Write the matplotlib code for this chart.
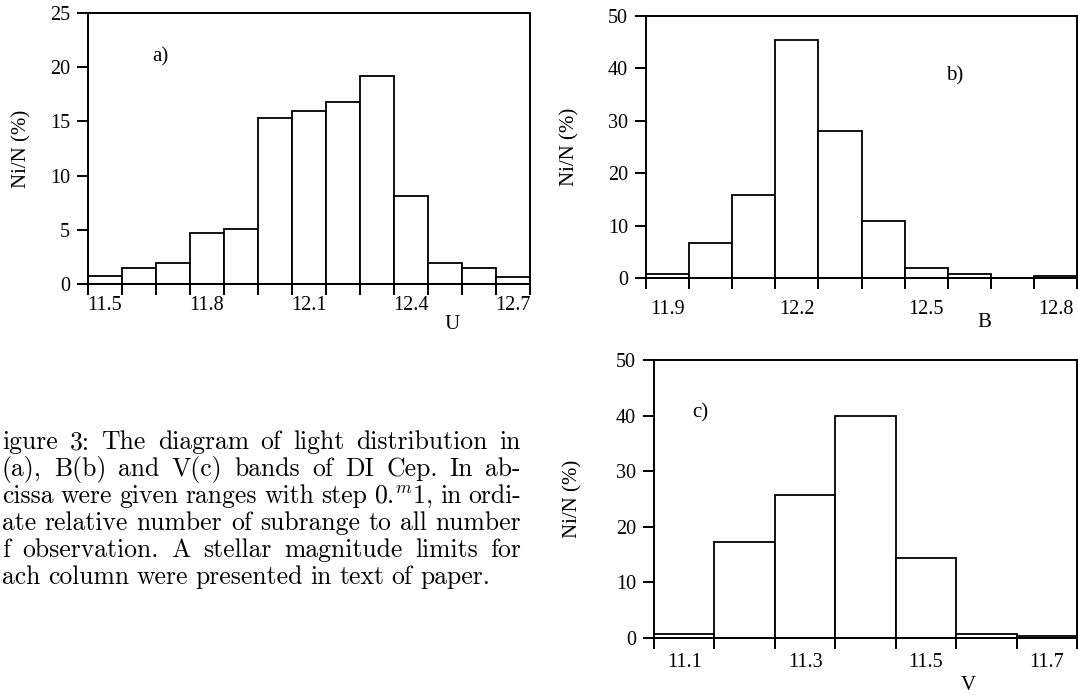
import matplotlib
matplotlib.use("Agg")
import matplotlib.pyplot as plt
import numpy as np
from matplotlib.ticker import FixedLocator, FixedFormatter, NullFormatter

# Magnitude bins (lower edge of each 0.1 mag subrange) and share of observations, %
u_bins = ["11.5", "11.6", "11.7", "11.8", "11.9", "12.0", "12.1",
          "12.2", "12.3", "12.4", "12.5", "12.6", "12.7"]
u_pct = [0.75, 1.5, 1.9, 4.7, 5.1, 15.3, 16.0, 16.8, 19.2, 8.1, 1.9, 1.5, 0.6]

b_bins = ["11.9", "12.0", "12.1", "12.2", "12.3", "12.4", "12.5",
          "12.6", "12.7", "12.8"]
b_pct = [0.7, 6.6, 15.9, 45.5, 28.0, 10.9, 2.0, 0.7, 0.0, 0.3]

v_bins = ["11.1", "11.2", "11.3", "11.4", "11.5", "11.6", "11.7"]
v_pct = [0.8, 17.3, 25.8, 40.0, 14.4, 0.8, 0.4]

# Caption text as it appears at the left page margin
caption_lines = [
    "igure 3: The diagram of light distribution in",
    "(a), B(b) and V(c) bands of DI Cep. In ab-",
    r"cissa were given ranges with step 0.$^m$1, in ordi-",
    "ate relative number of subrange to all number",
    "f observation. A stellar magnitude limits for",
    "ach column were presented in text of paper.",
]

W, H = 1078, 695
plt.rcParams["mathtext.fontset"] = "cm"
plt.rcParams["axes.unicode_minus"] = False
SERIF = "Liberation Serif"
TICK_FS = 14.5
LABEL_FS = 15
fig = plt.figure(figsize=(W / 100, H / 100), dpi=100)
fig.patch.set_facecolor("white")


def px_axes(left, top, right, bottom):
    return fig.add_axes([left / W, 1 - bottom / H, (right - left) / W, (bottom - top) / H])


def histogram(ax, labels, values, ymax, ystep, every, xpad, panel, panel_xy,
              xname, xname_xy):
    n = len(values)
    idx = np.arange(n)
    ax.bar(idx, values, width=1.0, align="edge", facecolor="white",
           edgecolor="black", linewidth=1.3, zorder=2)
    ax.set_xlim(0, n)
    ax.set_ylim(0, ymax)
    for s in ax.spines.values():
        s.set_linewidth(1.4)
        s.set_color("black")
        s.set_zorder(3)
    yt = np.arange(0, ymax + 0.1, ystep)
    ax.set_yticks(yt)
    ax.set_yticklabels([str(int(v)) for v in yt], fontfamily=SERIF, fontsize=TICK_FS)
    ax.tick_params(axis="y", direction="out", length=8, width=1.4, pad=5)
    # major ticks mark bin edges; labels sit under the centres of every k-th bin
    ax.xaxis.set_major_locator(FixedLocator(np.arange(n + 1)))
    ax.xaxis.set_major_formatter(NullFormatter())
    shown = list(range(0, n, every))
    ax.xaxis.set_minor_locator(FixedLocator([i + 0.5 for i in shown]))
    ax.xaxis.set_minor_formatter(FixedFormatter([labels[i] for i in shown]))
    ax.tick_params(axis="x", which="major", direction="out", length=8, width=1.4)
    ax.tick_params(axis="x", which="minor", length=0, pad=xpad, labelsize=TICK_FS)
    for t in ax.xaxis.get_minorticklabels():
        t.set_fontfamily(SERIF)
    ax.set_ylabel("Ni/N (%)", fontfamily=SERIF, fontsize=LABEL_FS)
    ax.text(panel_xy[0], panel_xy[1], panel, transform=ax.transAxes,
            fontfamily=SERIF, fontsize=LABEL_FS, ha="center", va="center")
    fig.text(xname_xy[0] / W, 1 - xname_xy[1] / H, xname, fontfamily=SERIF,
             fontsize=LABEL_FS, ha="center", va="center")


ax_u = px_axes(88, 13, 530, 284)
histogram(ax_u, u_bins, u_pct, 25, 5, 3, 8.5, "a)", (0.163, 0.84), "U", (452, 324))
ax_u.yaxis.set_label_coords(-0.127, 0.5)

ax_b = px_axes(646, 16, 1077, 278)
histogram(ax_b, b_bins, b_pct, 50, 10, 3, 16, "b)", (0.717, 0.77), "B", (984, 322))
ax_b.yaxis.set_label_coords(-0.155, 0.5)

ax_v = px_axes(654, 360, 1077, 638)
histogram(ax_v, v_bins, v_pct, 50, 10, 2, 10.5, "c)", (0.11, 0.81), "V", (968, 686))
ax_v.yaxis.set_label_coords(-0.168, 0.5)

# Caption block, justified between the two margins
renderer = fig.canvas.get_renderer()
x_left, x_right = 2.0, 521.0
base0, pitch = 449.0, 27.0
for k, line in enumerate(caption_lines):
    words = line.split(" ")
    y = 1 - (base0 + k * pitch) / H
    texts = [fig.text(0, y, w, fontfamily="cmr10", fontsize=18.5, va="baseline",
                      ha="left") for w in words]
    widths = [t.get_window_extent(renderer).width for t in texts]
    last = k == len(caption_lines) - 1
    if last or len(words) == 1:
        gap = 7.5
    else:
        gap = (x_right - x_left - sum(widths)) / (len(words) - 1)
    x = x_left
    for t, w in zip(texts, widths):
        t.set_x(x / W)
        x += w + gap

fig.savefig("out.png", dpi=100, facecolor="white")
